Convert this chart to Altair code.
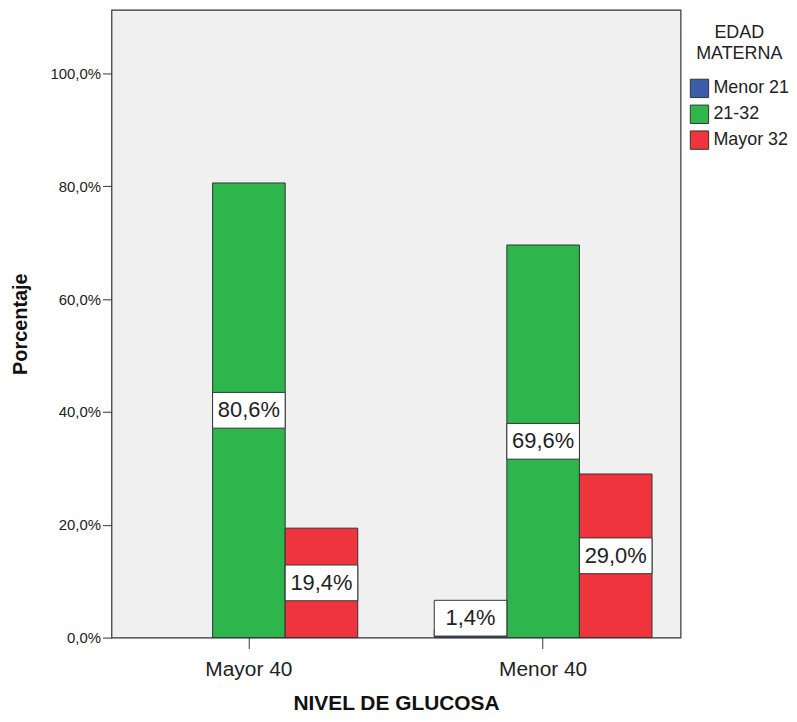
import altair as alt
import pandas as pd

# ---- data ----
niveles = ["Mayor 40", "Mayor 40", "Menor 40", "Menor 40", "Menor 40"]
edades = ["21-32", "Mayor 32", "Menor 21", "21-32", "Mayor 32"]
porcentajes = [80.6, 19.4, 1.4, 69.6, 29.0]
etiquetas = ["80,6%", "19,4%", "1,4%", "69,6%", "29,0%"]

categorias_x = ["Mayor 40", "Menor 40"]
categorias_edad = ["Menor 21", "21-32", "Mayor 32"]
colores = ["#3a5ca9", "#2eb54b", "#f0343d"]
ticks_y = [0, 20, 40, 60, 80, 100]

df = pd.DataFrame({
    "nivel": niveles,
    "edad": edades,
    "valor": porcentajes,
    "etiqueta": etiquetas,
})

FONT = "Liberation Sans"

x_enc = alt.X(
    "nivel:N",
    scale=alt.Scale(domain=categorias_x, paddingInner=0.26, paddingOuter=0.097),
    axis=alt.Axis(
        title="NIVEL DE GLUCOSA", labelAngle=0, labelFontSize=21, labelColor="#222",
        tickSize=11, labelPadding=10, tickColor="#333", domain=False,
        titleFontSize=21, titleFontWeight="bold", titleColor="#111", titlePadding=13,
    ),
)
xo_enc = alt.XOffset("edad:N", scale=alt.Scale(domain=categorias_edad))
y_scale = alt.Scale(domain=[0, 111.3], nice=False)

base = alt.Chart(df).transform_calculate(
    mid="max(datum.valor / 2, 3.44)",
).transform_calculate(
    lo="datum.mid - 3.17", hi="datum.mid + 3.17"
)

bars = base.mark_bar(stroke="#333", strokeWidth=1).encode(
    x=x_enc,
    xOffset=xo_enc,
    y=alt.Y(
        "valor:Q", scale=y_scale,
        axis=alt.Axis(
            title="Porcentaje", values=ticks_y, grid=False, domain=False,
            labelExpr="replace(format(datum.value, '.1f'), '.', ',') + '%'",
            labelFontSize=15, labelColor="#222", tickSize=9, labelPadding=2, tickColor="#333",
            titleFontSize=20, titleFontWeight="bold", titleColor="#111", titlePadding=20,
        ),
    ),
    color=alt.Color(
        "edad:N",
        scale=alt.Scale(domain=categorias_edad, range=colores),
        legend=alt.Legend(
            title=["EDAD", "MATERNA"], orient="none", legendX=581, legendY=14,
            titleFontSize=18, titleFontWeight="normal", titleColor="#222",
            titleAnchor="middle", titleAlign="center", titlePadding=16, titleLineHeight=21,
            labelFontSize=18, labelColor="#222", labelOffset=4,
            symbolType="square", symbolSize=340, symbolStrokeColor="#333",
            symbolStrokeWidth=1, rowPadding=2, symbolOpacity=1,
        ),
    ),
)

boxes = base.mark_rect(fill="white", stroke="#333", strokeWidth=1).encode(
    x=x_enc,
    xOffset=xo_enc,
    y=alt.Y("lo:Q", scale=y_scale),
    y2="hi:Q",
)

texts = base.mark_text(fontSize=22, color="#222", baseline="middle", font=FONT).encode(
    x=x_enc,
    xOffset=xo_enc,
    y=alt.Y("mid:Q", scale=y_scale),
    text="etiqueta:N",
)

chart = alt.layer(bars, boxes, texts).properties(
    width=572, height=631,
    autosize=alt.AutoSizeParams(type="none"),
    padding={"left": 104, "top": 0, "right": 109, "bottom": 76},
).configure(
    font=FONT,
).configure_view(
    fill="#f0f0f0", stroke="#333", strokeWidth=1.2,
)

chart.save("out.html", embed_options={"renderer": "svg", "actions": False})
